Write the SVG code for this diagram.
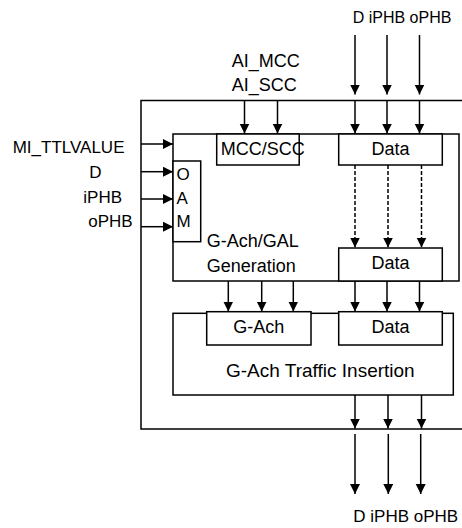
<svg xmlns="http://www.w3.org/2000/svg" width="462" height="528" viewBox="0 0 462 528">
  <style>
    .box { fill: #ffffff; stroke: #000000; stroke-width: 1.5; }
    .frame { fill: none; stroke: #000000; stroke-width: 1.5; }
    .wire { fill: none; stroke: #000000; stroke-width: 1.5; marker-end: url(#head); }
    .dash { stroke-dasharray: 4 2; }
    text { font-family: "Liberation Sans", Arial, sans-serif; fill: #000000; }
    .lbl { font-size: 17px; }
    .in { font-size: 18px; }
    .mid { text-anchor: middle; }
  </style>
  <defs>
    <marker id="head" markerUnits="userSpaceOnUse" markerWidth="11" markerHeight="11" refX="10" refY="5" orient="auto">
      <path d="M0,0 L10,5 L0,10 Z" fill="#000000"/>
    </marker>
  </defs>

  <rect width="462" height="528" fill="#ffffff"/>

  <!-- enclosing function frame, open past the right edge -->
  <g id="frame">
    <rect class="frame" x="141" y="100.5" width="340" height="328.5"/>
  </g>

  <!-- generation block with its sub-blocks -->
  <g id="generation">
    <rect class="box" x="173" y="134" width="286" height="147"/>
    <text class="in" x="206.7" y="246.7">G-Ach/GAL</text>
    <text class="in" x="206.7" y="271.7">Generation</text>
  </g>
  <g id="mcc-scc">
    <rect class="box" x="216.7" y="134" width="82.5" height="31"/>
    <text class="in" x="220.7" y="155">MCC/SCC</text>
  </g>
  <g id="data-in">
    <rect class="box" x="338.7" y="134" width="103.6" height="31"/>
    <text class="in mid" x="390.5" y="155">Data</text>
  </g>
  <g id="oam">
    <rect class="box" x="173" y="161" width="27.7" height="80.7"/>
    <text class="lbl" x="176.5" y="180">O</text>
    <text class="lbl" x="176.5" y="203.5">A</text>
    <text class="lbl" x="176.5" y="226.7">M</text>
  </g>
  <g id="data-gen">
    <rect class="box" x="338.7" y="248" width="103.6" height="33"/>
    <text class="in mid" x="390.5" y="269">Data</text>
  </g>

  <!-- insertion block with its sub-blocks -->
  <g id="insertion">
    <rect class="box" x="173" y="313.3" width="280.3" height="81.7"/>
    <text class="in" x="226" y="377.3" style="font-size:19px">G-Ach Traffic Insertion</text>
  </g>
  <g id="g-ach">
    <rect class="box" x="206.7" y="311.7" width="104.3" height="33.3"/>
    <text class="in mid" x="258.8" y="332.7">G-Ach</text>
  </g>
  <g id="data-ins">
    <rect class="box" x="338.7" y="311.7" width="103.6" height="33.3"/>
    <text class="in mid" x="390.5" y="332.7">Data</text>
  </g>

  <!-- external labels -->
  <g id="labels">
    <text style="font-size:16px" x="352.7" y="22.7">D iPHB oPHB</text>
    <text class="in" x="231.7" y="66.7">AI_MCC</text>
    <text class="in" x="231.7" y="91">AI_SCC</text>
    <text class="lbl" x="12.7" y="152.7">MI_TTLVALUE</text>
    <text class="lbl" x="89.3" y="177.5">D</text>
    <text class="lbl" x="83.3" y="203">iPHB</text>
    <text class="lbl" x="88.3" y="227">oPHB</text>
    <text class="lbl" x="353.3" y="521.7">D iPHB oPHB</text>
  </g>

  <!-- connectors -->
  <g id="connectors">
    <!-- traffic entering from above -->
    <line class="wire" x1="355" y1="35" x2="355" y2="94.5"/>
    <line class="wire" x1="387" y1="35" x2="387" y2="94.5"/>
    <line class="wire" x1="419.5" y1="35" x2="419.5" y2="94.5"/>
    <line class="wire" x1="355" y1="100.5" x2="355" y2="133.5"/>
    <line class="wire" x1="387" y1="100.5" x2="387" y2="133.5"/>
    <line class="wire" x1="419.5" y1="100.5" x2="419.5" y2="133.5"/>
    <!-- access information -->
    <line class="wire" x1="244.5" y1="100.5" x2="244.5" y2="133.5"/>
    <line class="wire" x1="277.5" y1="100.5" x2="277.5" y2="133.5"/>
    <!-- management inputs -->
    <line class="wire" x1="141" y1="144" x2="173" y2="144"/>
    <line class="wire" x1="141" y1="171.7" x2="173" y2="171.7"/>
    <line class="wire" x1="141" y1="199" x2="173" y2="199"/>
    <line class="wire" x1="141" y1="226.7" x2="173" y2="226.7"/>
    <!-- data pass-through inside generation -->
    <line class="wire dash" x1="355" y1="165" x2="355" y2="247.5"/>
    <line class="wire dash" x1="388" y1="165" x2="388" y2="247.5"/>
    <line class="wire dash" x1="421.5" y1="165" x2="421.5" y2="247.5"/>
    <!-- generation to insertion -->
    <line class="wire" x1="228.3" y1="281" x2="228.3" y2="311.5"/>
    <line class="wire" x1="261.7" y1="281" x2="261.7" y2="311.5"/>
    <line class="wire" x1="293.3" y1="281" x2="293.3" y2="311.5"/>
    <line class="wire" x1="355" y1="281" x2="355" y2="311.5"/>
    <line class="wire" x1="387" y1="281" x2="387" y2="311.5"/>
    <line class="wire" x1="419.5" y1="281" x2="419.5" y2="311.5"/>
    <!-- insertion output -->
    <line class="wire" x1="355" y1="395" x2="355" y2="428.5"/>
    <line class="wire" x1="388" y1="395" x2="388" y2="428.5"/>
    <line class="wire" x1="421.5" y1="395" x2="421.5" y2="428.5"/>
    <line class="wire" x1="355" y1="434" x2="355" y2="494"/>
    <line class="wire" x1="388.3" y1="434" x2="388.3" y2="494"/>
    <line class="wire" x1="420.7" y1="434" x2="420.7" y2="494"/>
  </g>
</svg>
